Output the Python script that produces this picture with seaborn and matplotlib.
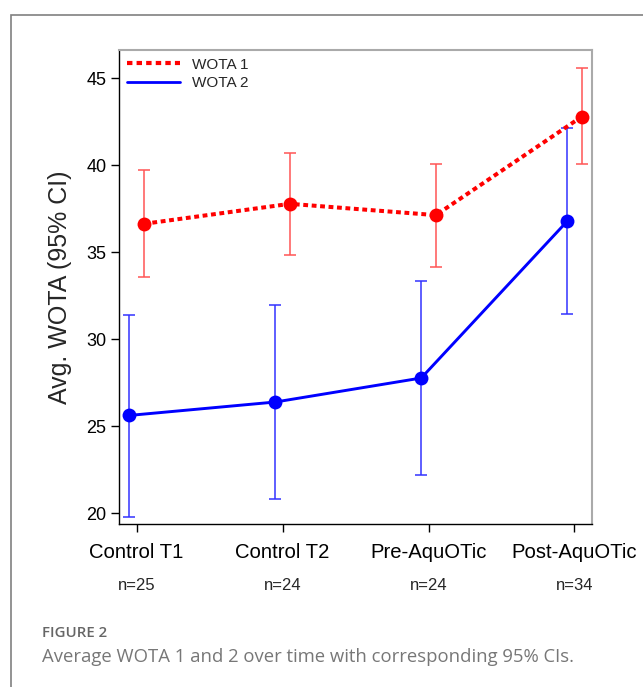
import numpy as np
import pandas as pd
import matplotlib
matplotlib.use("Agg")
import matplotlib.pyplot as plt
from matplotlib.lines import Line2D
from matplotlib.patches import Rectangle
import matplotlib.transforms as mtransforms
import seaborn as sns

# ---- data ----
categories = ["Control T1", "Control T2", "Pre-AquOTic", "Post-AquOTic"]
n_labels = ["n=25", "n=24", "n=24", "n=34"]
wota1_mean = [36.64, 37.79, 37.14, 42.80]
wota1_lo = [33.61, 34.87, 34.18, 40.07]
wota1_hi = [39.71, 40.73, 40.06, 45.60]
wota2_mean = [25.63, 26.40, 27.78, 36.79]
wota2_lo = [19.79, 20.80, 22.18, 31.44]
wota2_hi = [31.40, 31.97, 33.37, 42.17]
series_names = ["WOTA 1", "WOTA 2"]
yticks = [20, 25, 30, 35, 40, 45]

sns.set_style("white")
plt.rcParams["font.family"] = ["Liberation Sans", "DejaVu Sans"]

fig = plt.figure(figsize=(6.43, 6.87), dpi=100)
W, H = 643, 687
ax = fig.add_axes([119 / W, 1 - 524 / H, (592 - 119) / W, (524 - 50) / H])

offsets = {"WOTA 1": 0.05, "WOTA 2": -0.05}
colors = {"WOTA 1": "#ff0000", "WOTA 2": "#0000ff"}
ecolors = {"WOTA 1": "#ff5555", "WOTA 2": "#3333ff"}

rows = []
for name, m, lo, hi in [("WOTA 1", wota1_mean, wota1_lo, wota1_hi),
                        ("WOTA 2", wota2_mean, wota2_lo, wota2_hi)]:
    for i, c in enumerate(categories):
        rows.append({"series": name, "cat": c, "idx": i,
                     "x": i + offsets[name], "mean": m[i], "lo": lo[i], "hi": hi[i]})
df = pd.DataFrame(rows)

# error bars
for name in series_names:
    d = df[df.series == name]
    ax.errorbar(d["x"], d["mean"], yerr=[d["mean"] - d["lo"], d["hi"] - d["mean"]],
                fmt="none", ecolor=ecolors[name], elinewidth=1.1, capsize=4.5,
                capthick=1.1, zorder=2)

sns.lineplot(data=df, x="x", y="mean", hue="series", style="series",
             palette=colors, dashes={"WOTA 1": (1.2, 0.9), "WOTA 2": ""},
             markers={"WOTA 1": "o", "WOTA 2": "o"}, markersize=10,
             markeredgewidth=0, ax=ax, legend=False, zorder=3,
             size="series", sizes={"WOTA 1": 2.9, "WOTA 2": 2.1})

ax.set_xlim(-0.121, 3.12)
ax.set_ylim(19.39, 46.63)
ax.set_xticks(range(len(categories)))
ax.set_xticklabels(categories, fontsize=14.6)
ax.set_yticks(yticks)
ax.set_yticklabels([str(t) for t in yticks], fontsize=13)
ax.set_xlabel("")
ax.set_ylabel("Avg. WOTA (95% CI)", fontsize=18, labelpad=10)
ax.tick_params(axis="x", direction="out", length=6, width=1, pad=8, colors="black")
ax.tick_params(axis="y", direction="out", length=6, width=1, pad=3, colors="black")
ax.tick_params(bottom=True, left=True)

for s in ["left", "bottom"]:
    ax.spines[s].set_color("black")
    ax.spines[s].set_linewidth(1.0)
for s in ["top", "right"]:
    ax.spines[s].set_color("#aaaaaa")
    ax.spines[s].set_linewidth(1.5)

# n labels
trans = mtransforms.blended_transform_factory(ax.transData, fig.transFigure)
for i, t in enumerate(n_labels):
    ax.text(i, 1 - 585 / H, t, transform=trans, ha="center", va="center", fontsize=12)

# legend
handles = [Line2D([], [], color="#ff0000", lw=3.0, linestyle=(0, (1.3, 1.0))),
           Line2D([], [], color="#0000ff", lw=2.0)]
leg = ax.legend(handles, series_names, loc="upper left", frameon=False, fontsize=11,
                handlelength=3.5, handletextpad=0.8, borderaxespad=0.15,
                borderpad=0.35, labelspacing=0.3)

# outer frame
fig.add_artist(Rectangle((11 / W, -0.1), 2, 1.1 - 15 / H, transform=fig.transFigure,
                         fill=False, edgecolor="#808080", lw=1.2))

# caption
fig.text(42 / W, 1 - 633 / H, "FIGURE 2", fontsize=10.8, color="#666666",
         family=["Open Sans", "DejaVu Sans"], weight="semibold", va="center")
fig.text(42 / W, 1 - 657 / H, "Average WOTA 1 and 2 over time with corresponding 95% CIs.",
         fontsize=13.3, color="#777777", family=["Open Sans", "DejaVu Sans"], va="center")

fig.savefig("out.png", dpi=100)
